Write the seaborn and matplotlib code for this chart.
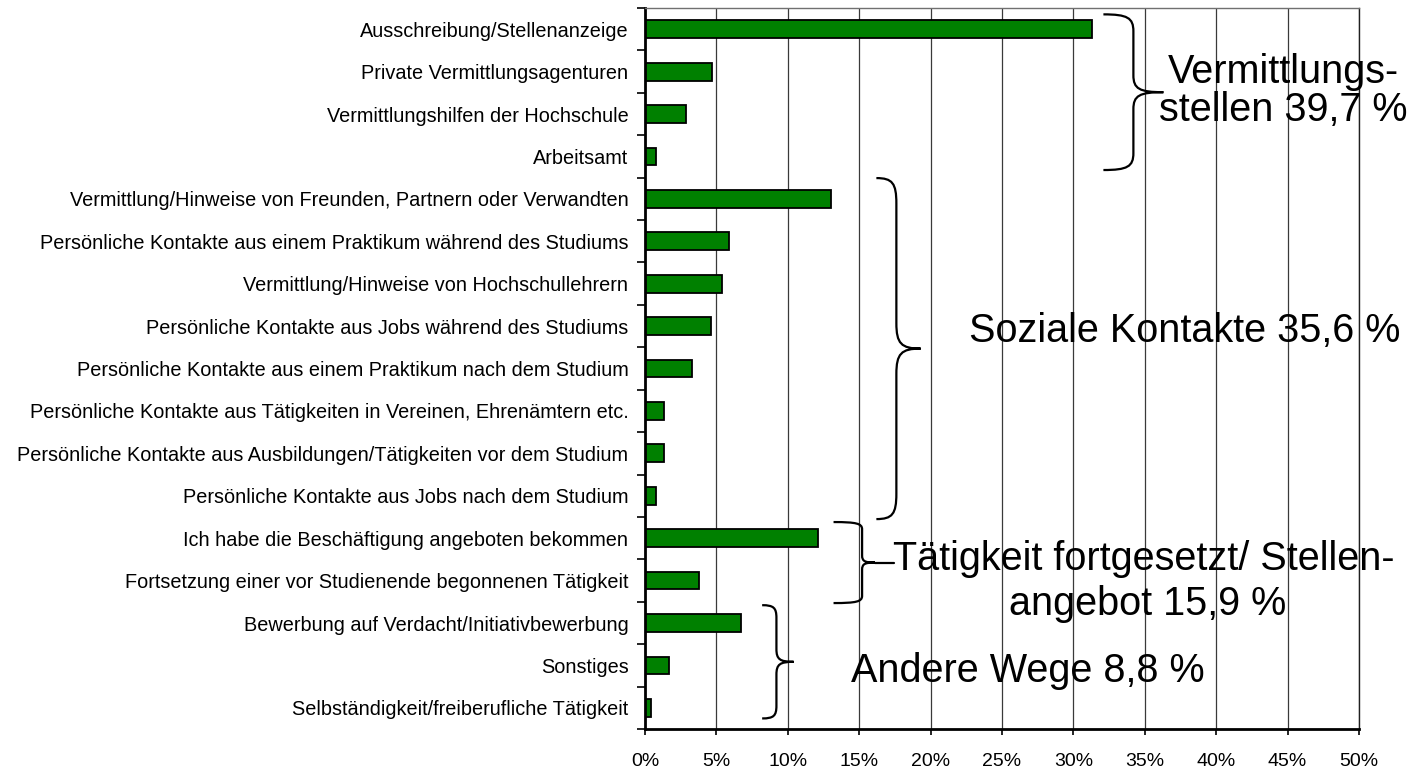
import numpy as np
import pandas as pd
import matplotlib
matplotlib.use('Agg')
import matplotlib.pyplot as plt
from matplotlib.path import Path
from matplotlib.patches import PathPatch
import seaborn as sns

# Wege zur ersten Beschaeftigung (Anteile in %)
wege = [
    'Ausschreibung/Stellenanzeige',
    'Private Vermittlungsagenturen',
    'Vermittlungshilfen der Hochschule',
    'Arbeitsamt',
    'Vermittlung/Hinweise von Freunden, Partnern oder Verwandten',
    'Persönliche Kontakte aus einem Praktikum während des Studiums',
    'Vermittlung/Hinweise von Hochschullehrern',
    'Persönliche Kontakte aus Jobs während des Studiums',
    'Persönliche Kontakte aus einem Praktikum nach dem Studium',
    'Persönliche Kontakte aus Tätigkeiten in Vereinen, Ehrenämtern etc.',
    'Persönliche Kontakte aus Ausbildungen/Tätigkeiten vor dem Studium',
    'Persönliche Kontakte aus Jobs nach dem Studium',
    'Ich habe die Beschäftigung angeboten bekommen',
    'Fortsetzung einer vor Studienende begonnenen Tätigkeit',
    'Bewerbung auf Verdacht/Initiativbewerbung',
    'Sonstiges',
    'Selbständigkeit/freiberufliche Tätigkeit',
]
anteile = [31.3, 4.7, 2.9, 0.8,
           13.0, 5.9, 5.4, 4.6, 3.3, 1.3, 1.3, 0.8,
           12.1, 3.8,
           6.7, 1.7, 0.4]

x_ticks = [0, 5, 10, 15, 20, 25, 30, 35, 40, 45, 50]
x_tick_labels = ['0%', '5%', '10%', '15%', '20%', '25%', '30%', '35%', '40%', '45%', '50%']

# Gruppen: (erste Kategorie, letzte Kategorie, Beschriftungszeilen)
gruppen_start = [0, 4, 12, 14]
gruppen_ende = [3, 11, 13, 16]
gruppen_text = [
    ['Vermittlungs-', 'stellen 39,7 %'],
    ['Soziale Kontakte 35,6 %'],
    ['Tätigkeit fortgesetzt/ Stellen-', 'angebot 15,9 %'],
    ['Andere Wege 8,8 %'],
]

df = pd.DataFrame({'Weg': wege, 'Anteil': anteile})

sns.set_theme(style='white')
plt.rcParams['font.family'] = ['Liberation Sans', 'DejaVu Sans']

fig = plt.figure(figsize=(14.14, 7.7), dpi=100)
ax = fig.add_axes([0.4562, 0.0532, 0.5049, 0.9364])

sns.barplot(data=df, x='Anteil', y='Weg', orient='h', color='#008000',
            saturation=1, edgecolor='black', linewidth=1.3, width=0.42, ax=ax)

ax.set_xlim(0, 50)
ax.set_ylim(len(wege) - 0.5, -0.5)
ax.set_xticks(x_ticks)
ax.set_xticklabels(x_tick_labels, fontsize=14, color='black')
ax.set_yticklabels(wege, fontsize=14.3, color='black')
ax.set_xlabel('')
ax.set_ylabel('')

# Gitternetz und Achsen
ax.set_axisbelow(True)
for xv in x_ticks[1:]:
    ax.axvline(xv, color='#3a3a3a', lw=0.9, zorder=0)
ax.tick_params(axis='y', which='major', length=0, pad=12)
ax.set_yticks(np.arange(-0.5, len(wege), 1.0), minor=True)
ax.tick_params(axis='y', which='minor', length=5.5, width=1.2, color='black', left=True)
ax.tick_params(axis='x', which='major', length=4, width=1.2, color='black', pad=13, bottom=True)
ax.spines['left'].set_linewidth(2)
ax.spines['left'].set_color('black')
ax.spines['bottom'].set_linewidth(2)
ax.spines['bottom'].set_color('black')
ax.spines['top'].set_linewidth(1.0)
ax.spines['top'].set_color('#707070')
ax.spines['right'].set_linewidth(1.0)
ax.spines['right'].set_color('#202020')


def klammer(ax, y0, y1, x_spitze, x_steg, x_mitte, r):
    ym = (y0 + y1) / 2
    verts = [
        (x_spitze, y0),
        (x_spitze + 0.8 * (x_steg - x_spitze), y0), (x_steg, y0 + 0.2 * r), (x_steg, y0 + r),
        (x_steg, ym - r),
        (x_steg, ym - 0.2 * r), (x_steg + 0.2 * (x_mitte - x_steg), ym), (x_mitte, ym),
        (x_steg + 0.2 * (x_mitte - x_steg), ym), (x_steg, ym + 0.2 * r), (x_steg, ym + r),
        (x_steg, y1 - r),
        (x_steg, y1 - 0.2 * r), (x_spitze + 0.8 * (x_steg - x_spitze), y1), (x_spitze, y1),
    ]
    codes = [Path.MOVETO,
             Path.CURVE4, Path.CURVE4, Path.CURVE4,
             Path.LINETO,
             Path.CURVE4, Path.CURVE4, Path.CURVE4,
             Path.CURVE4, Path.CURVE4, Path.CURVE4,
             Path.LINETO,
             Path.CURVE4, Path.CURVE4, Path.CURVE4]
    ax.add_patch(PathPatch(Path(verts, codes), fill=False, edgecolor='black',
                           lw=1.6, clip_on=False, zorder=5))


# Klammern: vertikale Ausdehnung relativ zu den Kategorien der Gruppe
klammer(ax, gruppen_start[0] - 0.35, gruppen_ende[0] + 0.32, 32.1, 34.2, 36.3, 0.4)
klammer(ax, gruppen_start[1] - 0.49, gruppen_ende[1] + 0.55, 16.2, 17.6, 19.3, 0.6)
klammer(ax, gruppen_start[2] - 0.38, gruppen_ende[2] + 0.53, 13.2, 15.2, 16.1, 0.17)
klammer(ax, gruppen_start[3] - 0.42, gruppen_ende[3] + 0.25, 8.2, 9.2, 10.4, 0.3)
ax.plot([16.1, 17.4], [12.58, 12.58], color='black', lw=1.6, clip_on=False, zorder=5)

txt = dict(fontsize=28.5, color='black', ha='center', va='baseline', zorder=4)
ax.text(44.7, 1.27, gruppen_text[0][0], **txt)
ax.text(44.7, 2.16, gruppen_text[0][1], **txt)
ax.text(37.8, 7.37, gruppen_text[1][0], **txt)
ax.text(34.9, 12.75, gruppen_text[2][0], **txt)
ax.text(35.2, 13.81, gruppen_text[2][1], **txt)
ax.text(26.8, 15.39, gruppen_text[3][0], **txt)

fig.savefig('out.png', dpi=100)
